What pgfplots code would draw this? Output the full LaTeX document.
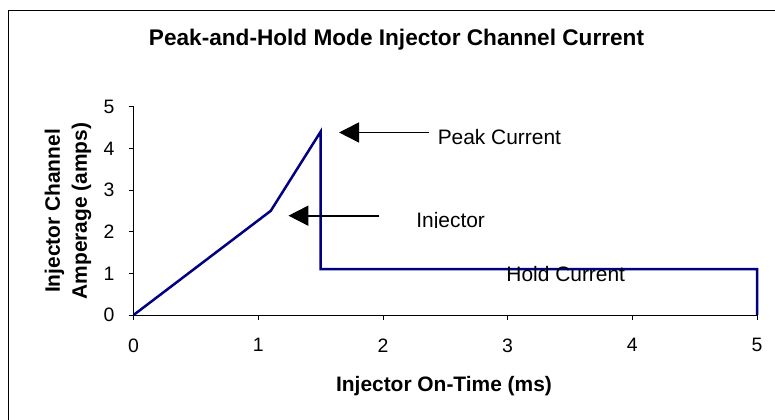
\documentclass[border=0pt]{standalone}
\usepackage{fontspec}
\setmainfont{Liberation Sans}
\usepackage{pgfplots}
\pgfplotsset{compat=1.18}
\usetikzlibrary{arrows.meta}
\definecolor{navyline}{RGB}{0,0,128}
\begin{document}
\begin{tikzpicture}
\path[use as bounding box] (0,0) rectangle (775bp,420bp);
\draw[black, line width=1.2bp] (8.5bp,-2bp) -- (8.5bp,409.5bp) -- (777bp,409.5bp);
\begin{axis}[
  at={(133.6bp,105bp)}, anchor=south west,
  scale only axis, width=623.4bp, height=208.3bp,
  xmin=0, xmax=5, ymin=0, ymax=5,
  axis lines=left,
  axis line style={-, black, line width=0.9bp},
  tick align=outside,
  major tick length=5bp,
  tick style={black, line width=0.9bp},
  xtick={0,1,2,3,4,5}, ytick={0,1,2,3,4,5},
  /pgf/number format/assume math mode=true,
  ticklabel style={font=\fontsize{19.5}{21}\selectfont, inner sep=0pt},
  xticklabel style={anchor=north, yshift=-18.3bp},
  yticklabel style={anchor=east, xshift=-14bp},
  clip=false,
]
\addplot[color=navyline, line width=2.5bp, line join=miter] coordinates {
  (0,0) (1.1,2.5) (1.5,4.4) (1.5,1.1) (5,1.1) (5,0)
};
\draw[black, line width=1.8bp, -{Triangle[length=20bp,width=20bp]}]
  (axis cs:2.373,4.381) -- (axis cs:1.648,4.381);
\draw[black, line width=1.8bp, -{Triangle[length=20bp,width=20bp]}]
  (axis cs:1.972,2.384) -- (axis cs:1.242,2.384);
\node[anchor=base west, inner sep=0pt, font=\fontsize{21}{24}\selectfont]
  at (axis cs:2.438,4.097) {Peak Current};
\begin{scope}
\clip (axis cs:2.2,2.09) rectangle (axis cs:3.2,2.7);
\node[anchor=base west, inner sep=0pt, font=\fontsize{21}{24}\selectfont]
  at (axis cs:2.266,2.096) {Injector};
\end{scope}
\node[anchor=base west, inner sep=0pt, font=\fontsize{21}{24}\selectfont]
  at (axis cs:2.989,0.799) {Hold Current};
\end{axis}
\node[anchor=base, inner sep=0pt, font=\bfseries\fontsize{22.7}{26}\selectfont]
  at (396.5bp,374bp) {Peak-and-Hold Mode Injector Channel Current};
\node[anchor=base, inner sep=0pt, font=\bfseries\fontsize{21}{24}\selectfont]
  at (444bp,28.3bp) {Injector On-Time (ms)};
\node[rotate=90, anchor=south, inner sep=0pt, align=center,
  font=\bfseries\fontsize{21}{27}\selectfont]
  at (91.5bp,209bp) {Injector Channel\\Amperage (amps)};
\end{tikzpicture}
\end{document}
